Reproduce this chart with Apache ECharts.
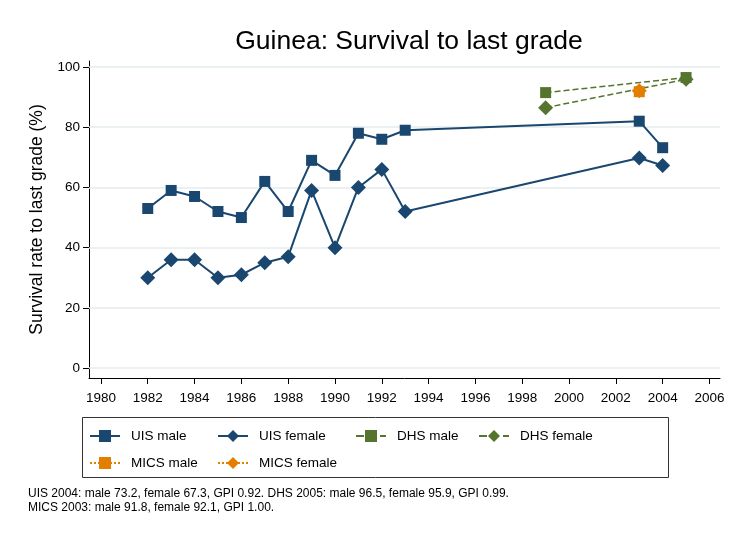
<!DOCTYPE html>
<html>
<head>
<meta charset="utf-8">
<script src="https://cdn.jsdelivr.net/npm/echarts@6/dist/echarts.min.js"></script>
<style>
html, body { margin: 0; padding: 0; background: #fff; }
#main { width: 733px; height: 535px; }
</style>
</head>
<body>
<div id="main"></div>
<script>
var uisYears = [1982, 1983, 1984, 1985, 1986, 1987, 1988, 1989, 1990, 1991, 1992, 1993, 2003, 2004];
var uisMale = [53, 59, 57, 52, 50, 62, 52, 69, 64, 78, 76, 79, 82, 73.2];
var uisFemale = [30, 36, 36, 30, 31, 35, 37, 59, 40, 60, 66, 52, 69.8, 67.3];
var dhsYears = [1999, 2005];
var dhsMale = [91.5, 96.5];
var dhsFemale = [86.5, 95.9];
var micsYears = [2003];
var micsMale = [91.8];
var micsFemale = [92.1];
var xTicks = [1980, 1982, 1984, 1986, 1988, 1990, 1992, 1994, 1996, 1998, 2000, 2002, 2004, 2006];
var yTicks = [0, 20, 40, 60, 80, 100];

var navy = '#1a476f', green = '#55752f', orange = '#e37e00';

function pairs(xs, ys) {
    return xs.map(function (x, i) { return [x, ys[i]]; });
}

function lineSeries(name, xs, ys, color, symbol, size, type) {
    return {
        name: name,
        type: 'line',
        data: pairs(xs, ys),
        symbol: symbol,
        symbolSize: size,
        showAllSymbol: true,
        lineStyle: { color: color, width: type === 'solid' ? 2 : 1.5, type: type },
        itemStyle: { color: color },
        emphasis: { disabled: true },
        z: 3
    };
}

var series = [
    lineSeries('UIS male', uisYears, uisMale, navy, 'rect', 11, 'solid'),
    lineSeries('UIS female', uisYears, uisFemale, navy, 'diamond', 15, 'solid'),
    lineSeries('DHS male', dhsYears, dhsMale, green, 'rect', 11, 'dashed'),
    lineSeries('DHS female', dhsYears, dhsFemale, green, 'diamond', 15, 'dashed'),
    lineSeries('MICS male', micsYears, micsMale, orange, 'rect', 11, 'dotted'),
    lineSeries('MICS female', micsYears, micsFemale, orange, 'diamond', 15, 'dotted')
];
// horizontal grid lines
series[0].markLine = {
    silent: true,
    symbol: 'none',
    label: { show: false },
    lineStyle: { color: '#e4edef', width: 1.5, type: 'solid' },
    data: yTicks.map(function (v) { return { yAxis: v }; }),
    z: 1
};

// legend: icon start x per item, row 1 then row 2
var legendX = [84, 212, 350, 473, 84, 212];
var legends = series.map(function (s, i) {
    return {
        data: [s.name],
        left: legendX[i],
        top: i < 4 ? 424 : 451,
        itemWidth: 30,
        itemHeight: 15,
        itemGap: 8,
        selectedMode: false,
        textStyle: { fontFamily: 'Liberation Sans', fontSize: 13.5, color: '#000', padding: [0, 0, 0, 6] }
    };
});

var chart = echarts.init(document.getElementById('main'));
chart.setOption({
    backgroundColor: '#fff',
    animation: false,
    title: {
        text: 'Guinea: Survival to last grade',
        left: 404,
        textAlign: 'center',
        top: 23,
        textStyle: { fontFamily: 'Liberation Sans', fontSize: 26.5, fontWeight: 'normal', color: '#000' }
    },
    legend: legends,
    grid: { left: 89, right: 13, top: 61, bottom: 157 },
    xAxis: {
        type: 'value',
        min: 1979.49,
        max: 2006.45,
        axisLine: { show: true, onZero: false, lineStyle: { color: '#000', width: 1 } },
        axisTick: { show: true, customValues: xTicks, length: 6, lineStyle: { color: '#000' } },
        axisLabel: {
            customValues: xTicks, color: '#000', fontFamily: 'Liberation Sans', fontSize: 13.5, margin: 13,
            formatter: function (v) { return String(v); }
        },
        splitLine: { show: false }
    },
    yAxis: {
        type: 'value',
        min: -3.3,
        max: 102,
        name: 'Survival rate to last grade (%)',
        nameLocation: 'middle',
        nameGap: 33,
        nameTextStyle: { fontFamily: 'Liberation Sans', fontSize: 17.5, color: '#000' },
        axisLine: { show: true, onZero: false, lineStyle: { color: '#000', width: 1 } },
        axisTick: { show: true, customValues: yTicks, length: 6, lineStyle: { color: '#000' } },
        axisLabel: { customValues: yTicks, color: '#000', fontFamily: 'Liberation Sans', fontSize: 13.5, margin: 9 },
        splitLine: { show: false }
    },
    graphic: [
        {
            type: 'rect',
            shape: { x: 82.5, y: 417.5, width: 586, height: 60 },
            style: { fill: 'none', stroke: '#333', lineWidth: 1 },
            z: -1
        },
        {
            type: 'text',
            left: 28,
            top: 487,
            style: {
                text: 'UIS 2004: male 73.2, female 67.3, GPI 0.92. DHS 2005: male 96.5, female 95.9, GPI 0.99.\nMICS 2003: male 91.8, female 92.1, GPI 1.00.',
                fontFamily: 'Liberation Sans',
                fontSize: 12,
                lineHeight: 14,
                fill: '#000'
            }
        }
    ],
    series: series
});
</script>
</body>
</html>
